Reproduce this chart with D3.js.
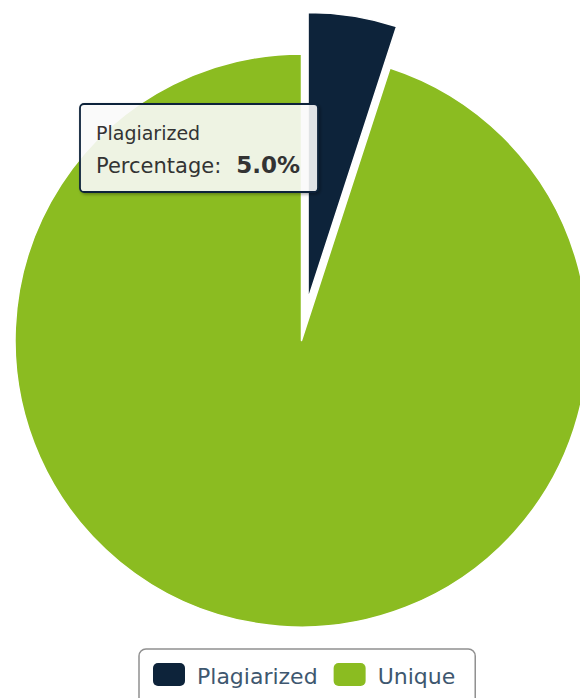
<!DOCTYPE html>
<html lang="en">
<head>
  <meta charset="UTF-8" />
  <title>Plagiarism check</title>
  <script src="https://d3js.org/d3.v7.min.js"></script>
  <style>
    body { margin: 0; background: #fff; font-family: "DejaVu Sans", Verdana, sans-serif; }
    svg { display: block; }
  </style>
</head>
<body>
  <svg width="580" height="698"></svg>

  <script>
    // data
    const categories = ["Plagiarized", "Unique"];
    const values = [5.0, 95.0];
    const colors = ["#0d233a", "#8bbc21"];
    const slicedCategory = "Plagiarized";
    const tooltipCategory = "Plagiarized";

    const svg = d3.select("svg");
    const cx = 301.5, cy = 340.5, radius = 286.5;
    const sliceOffset = 42;

    const color = d3.scaleOrdinal().domain(categories).range(colors);

    const rows = categories.map((c, i) => ({ name: c, value: values[i] }));
    const pie = d3.pie().sort(null).value(d => d.value);
    const arc = d3.arc().innerRadius(0).outerRadius(radius);
    const arcs = pie(rows);

    const chart = svg.append("g").attr("transform", `translate(${cx},${cy})`);

    chart.selectAll("path")
      .data(arcs)
      .enter()
      .append("path")
      .attr("d", arc)
      .attr("fill", d => color(d.data.name))
      .attr("stroke", "#fff")
      .attr("stroke-width", 1.5)
      .attr("stroke-linejoin", "round")
      .attr("transform", d => {
        if (d.data.name !== slicedCategory) return null;
        const a = (d.startAngle + d.endAngle) / 2;
        return `translate(${Math.sin(a) * sliceOffset},${-Math.cos(a) * sliceOffset})`;
      });

    // tooltip
    const defs = svg.append("defs");
    const f = defs.append("filter").attr("id", "shadow")
      .attr("x", "-10%").attr("y", "-10%").attr("width", "130%").attr("height", "130%");
    f.append("feDropShadow").attr("dx", 1.5).attr("dy", 1.5)
      .attr("stdDeviation", 1.5).attr("flood-color", "#000").attr("flood-opacity", 0.35);

    const tipRow = rows.find(r => r.name === tooltipCategory);
    const total = d3.sum(values);
    const tip = svg.append("g").attr("transform", "translate(80,104)");
    tip.append("rect")
      .attr("width", 238).attr("height", 88).attr("rx", 4)
      .attr("fill", "rgba(255,255,255,0.85)")
      .attr("stroke", color(tipRow.name))
      .attr("stroke-width", 1.8)
      .attr("filter", "url(#shadow)");
    tip.append("text")
      .attr("x", 16).attr("y", 36)
      .attr("font-size", 19).attr("fill", "#333")
      .text(tipRow.name);
    const line2 = tip.append("text")
      .attr("x", 16).attr("y", 69)
      .attr("fill", "#333");
    line2.append("tspan").attr("font-size", 21).text("Percentage:");
    line2.append("tspan").attr("dx", 15).attr("font-size", 23).attr("font-weight", "bold")
      .text(d3.format(".1f")(tipRow.value / total * 100) + "%");

    // legend
    const legend = svg.append("g");
    const legendBox = legend.append("rect");
    let x = 153;
    categories.forEach(c => {
      legend.append("rect")
        .attr("x", x).attr("y", 663)
        .attr("width", 32).attr("height", 23).attr("rx", 5)
        .attr("fill", color(c));
      const t = legend.append("text")
        .attr("x", x + 44).attr("y", 684)
        .attr("font-size", 22).attr("fill", "#3e576f")
        .text(c);
      x += 44 + t.node().getComputedTextLength() + 16;
    });
    legendBox
      .attr("x", 139).attr("y", 649)
      .attr("width", x - 16 + 20 - 139).attr("height", 70).attr("rx", 7)
      .attr("fill", "#fff").attr("stroke", "#909090").attr("stroke-width", 1.5);
  </script>
</body>
</html>
